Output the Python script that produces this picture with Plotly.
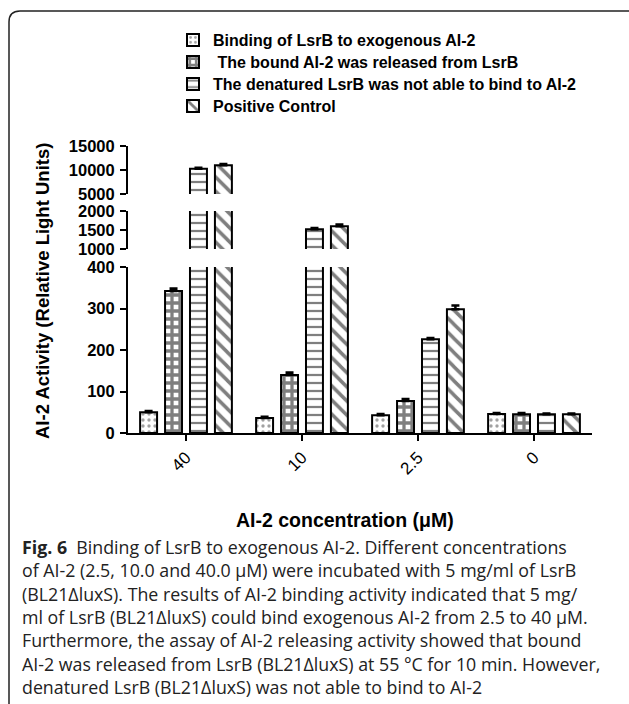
import plotly.graph_objects as go

# ---------------- data ----------------
categories = ["40", "10", "2.5", "0"]
series_names = [
    "Binding of LsrB to exogenous AI-2",
    " The bound AI-2 was released from LsrB",
    "The denatured LsrB was not able to bind to AI-2",
    "Positive Control",
]
binding = [50, 36, 43, 46]
binding_err = [3, 3, 3, 2]
released = [342, 140, 77, 45]
released_err = [6, 6, 5, 3]
denatured = [10250, 1520, 226, 45]
denatured_err = [220, 30, 3, 2]
positive = [11000, 1600, 298, 45]
positive_err = [250, 45, 9, 2]

values = [binding, released, denatured, positive]
errors = [binding_err, released_err, denatured_err, positive_err]

y_low_ticks = [0, 100, 200, 300, 400]
y_mid_ticks = [1000, 1500, 2000]
y_top_ticks = [5000, 10000, 15000]

x_title = "AI-2 concentration (μM)"
y_title = "AI-2 Activity (Relative Light Units)"
caption_lines = [
    "<b>Fig. 6</b>  Binding of LsrB to exogenous AI-2. Different concentrations",
    "of AI-2 (2.5, 10.0 and 40.0 μM) were incubated with 5 mg/ml of LsrB",
    "(BL21ΔluxS). The results of AI-2 binding activity indicated that 5 mg/",
    "ml of LsrB (BL21ΔluxS) could bind exogenous AI-2 from 2.5 to 40 μM.",
    "Furthermore, the assay of AI-2 releasing activity showed that bound",
    "AI-2 was released from LsrB (BL21ΔluxS) at 55 °C for 10 min. However,",
    "denatured LsrB (BL21ΔluxS) was not able to bind to AI-2",
]

# ---------------- layout geometry ----------------
W, H = 629, 704
L, R = 128, 37
T, B = 146, 271
PW = W - L - R
PH = H - T - B


def px(xp):
    return (xp - L) / PW


def py(yp):
    return (H - B - yp) / PH


patterns = [
    dict(shape=".", size=6, solidity=0.25, fgcolor="#444"),
    dict(shape="+", size=8, solidity=0.65, fgcolor="black"),
    dict(shape="-", size=8, solidity=0.28, fgcolor="black"),
    dict(shape="\\", size=10, solidity=0.35, fgcolor="black"),
]
legend_ids = ["legend", "legend2", "legend3", "legend4"]

fig = go.Figure()
axes_pairs = [("x", "y"), ("x2", "y2"), ("x3", "y3")]
for ai, (xa, ya) in enumerate(axes_pairs):
    for i in range(4):
        fig.add_trace(go.Bar(
            x=categories, y=values[i], name=series_names[i],
            xaxis=xa, yaxis=ya, legend=legend_ids[i],
            marker=dict(color="white", line=dict(color="black", width=2),
                        pattern=patterns[i]),
            error_y=dict(type="data", array=errors[i], symmetric=False,
                         arrayminus=[0] * 4, color="black", thickness=2.5, width=4),
            showlegend=(ai == 0), legendgroup=str(i),
        ))

tickfont = dict(family="Liberation Sans", size=16.5, color="black", weight="bold")
yax_common = dict(showgrid=False, zeroline=False, showline=True, linecolor="black",
                  linewidth=2, ticks="outside", ticklen=6, tickwidth=2,
                  tickcolor="black", tickfont=tickfont, anchor="x", ticklabelstandoff=2)

legend_style = dict(xanchor="left", yanchor="middle",
                    font=dict(family="Liberation Sans", size=16, color="black",
                              weight="bold"),
                    bgcolor="rgba(0,0,0,0)", itemwidth=30)
legend_rows = [40, 62, 84, 106]

fig.update_layout(
    width=W, height=H,
    margin=dict(l=L, r=R, t=T, b=B, pad=0),
    paper_bgcolor="white", plot_bgcolor="rgba(0,0,0,0)",
    barmode="group", bargap=0.14, bargroupgap=0.32,
    xaxis=dict(domain=[0, 1], anchor="y", range=[-0.5, 3.5], showgrid=False,
               showline=True, linecolor="black", linewidth=2, ticks="outside",
               ticklen=6, tickwidth=2, tickcolor="black", tickangle=-45,
               tickfont=dict(family="Liberation Sans", size=17, color="black")),
    xaxis2=dict(domain=[0, 1], anchor="y2", matches="x", visible=False),
    xaxis3=dict(domain=[0, 1], anchor="y3", matches="x", visible=False),
    yaxis=dict(domain=[0, py(267)], range=[0, 400], tickvals=y_low_ticks,
               ticktext=[str(v) for v in y_low_ticks], **yax_common),
    yaxis2=dict(domain=[py(249), py(211)], range=[1000, 2000], tickvals=y_mid_ticks,
                ticktext=[str(v) for v in y_mid_ticks],
                **{**yax_common, "anchor": "x2"}),
    yaxis3=dict(domain=[py(194), 1], range=[5000, 15000], tickvals=y_top_ticks,
                ticktext=[str(v) for v in y_top_ticks],
                **{**yax_common, "anchor": "x3"}),
    showlegend=True,
)
for lid, row in zip(legend_ids, legend_rows):
    fig.update_layout({lid: dict(x=px(173), y=py(row), **legend_style)})

annotations = [
    dict(text=y_title, x=px(42), y=py(291), xref="paper", yref="paper", textangle=-90,
         xanchor="center", yanchor="middle",
         showarrow=False, font=dict(family="Liberation Sans", size=18.5, color="black",
                                    weight="bold")),
    dict(text=x_title, x=px(345), y=py(520), xref="paper", yref="paper",
         xanchor="center", yanchor="middle",
         showarrow=False, font=dict(family="Liberation Sans", size=19.5, color="black",
                                    weight="bold")),
]
cap_top = 547
cap_step = 23.3
for k, line in enumerate(caption_lines):
    annotations.append(dict(text=line, x=px(20), y=py(cap_top + k * cap_step),
                            xref="paper", yref="paper", xanchor="left", yanchor="middle",
                            showarrow=False,
                            font=dict(family="Open Sans", size=17.8, color="#222")))
fig.update_layout(annotations=annotations)

# frame with rounded corner
path = (f"M {px(632)} {py(11)} L {px(20)} {py(11)} "
        f"Q {px(9)} {py(11)} {px(9)} {py(22)} L {px(9)} {py(706)}")
fig.add_shape(type="path", path=path, xref="paper", yref="paper",
              line=dict(color="#222", width=1.5))

fig.write_html("out.html", config={"displayModeBar": False},
               post_script="document.body.style.margin='0';document.body.style.overflow='hidden';")
